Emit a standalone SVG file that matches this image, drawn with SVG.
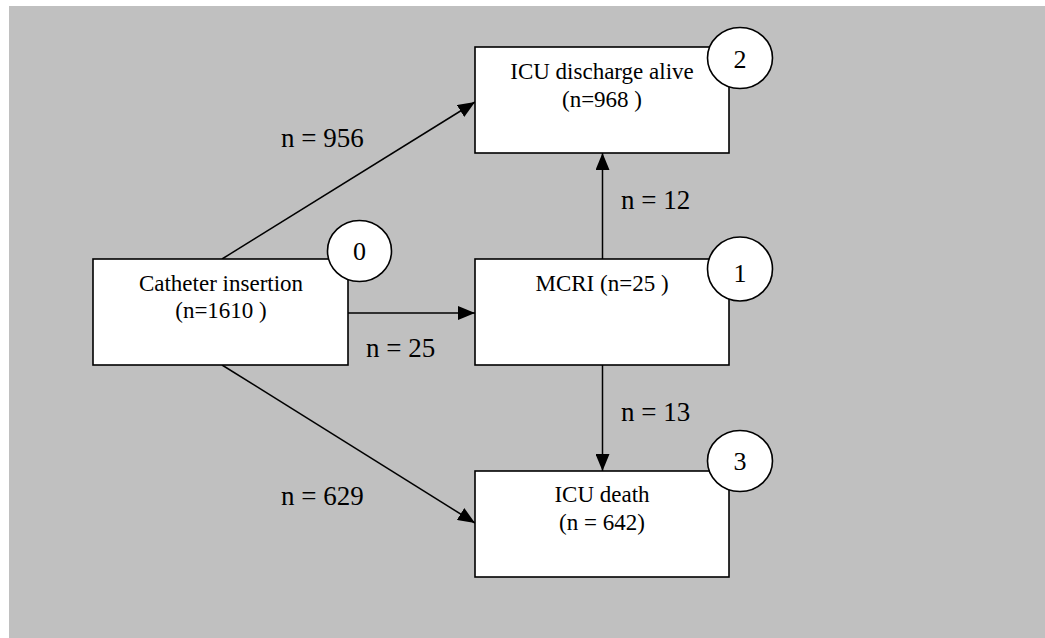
<svg xmlns="http://www.w3.org/2000/svg" width="1045" height="638" viewBox="0 0 1045 638">
<style>
.box{fill:#fff;stroke:#000;stroke-width:1.6}
.badge{fill:#fff;stroke:#000;stroke-width:1.6}
.lbl{font-family:"Liberation Serif","Times New Roman",serif;font-size:23px;fill:#000;text-anchor:middle}
.num{font-family:"Liberation Serif","Times New Roman",serif;font-size:26px;fill:#000;text-anchor:middle}
.elbl{font-family:"Liberation Serif","Times New Roman",serif;font-size:27px;fill:#000}
.edge{stroke:#000;stroke-width:1.5;fill:none;marker-end:url(#ah)}
</style>
<defs>
<marker id="ah" markerUnits="userSpaceOnUse" markerWidth="17" markerHeight="14" refX="17" refY="7" orient="auto">
<path d="M0,0 L17,7 L0,14 z" fill="#000"/>
</marker>
</defs>
<rect x="9" y="6" width="1036" height="632" fill="#C0C0C0"/>
<g id="connectors">
<line class="edge" x1="222" y1="259" x2="475" y2="102"/>
<line class="edge" x1="348" y1="313" x2="475" y2="313"/>
<line class="edge" x1="222" y1="365" x2="475" y2="523"/>
<line class="edge" x1="602.5" y1="259" x2="602.5" y2="153"/>
<line class="edge" x1="602.5" y1="365" x2="602.5" y2="471"/>
<text class="elbl" x="281" y="147">n = 956</text>
<text class="elbl" x="366" y="357">n = 25</text>
<text class="elbl" x="281" y="505">n = 629</text>
<text class="elbl" x="621" y="209">n = 12</text>
<text class="elbl" x="621" y="421">n = 13</text>
</g>
<g id="node0">
<rect class="box" x="93" y="259" width="255" height="106"/>
<text class="lbl" x="221" y="291">Catheter insertion</text>
<text class="lbl" x="221" y="318">(n=1610 )</text>
<ellipse class="badge" cx="359.5" cy="251" rx="32" ry="30.5"/>
<text class="num" x="359.5" y="260">0</text>
</g>
<g id="node1">
<rect class="box" x="475" y="259" width="254" height="106"/>
<text class="lbl" x="602" y="291">MCRI (n=25 )</text>
<ellipse class="badge" cx="740" cy="269" rx="32.5" ry="32"/>
<text class="num" x="740" y="282">1</text>
</g>
<g id="node2">
<rect class="box" x="475" y="47" width="254" height="106"/>
<text class="lbl" x="602" y="79">ICU discharge alive</text>
<text class="lbl" x="602" y="107">(n=968 )</text>
<ellipse class="badge" cx="740" cy="58" rx="32.5" ry="30.5"/>
<text class="num" x="740" y="68">2</text>
</g>
<g id="node3">
<rect class="box" x="475" y="471" width="254" height="106"/>
<text class="lbl" x="602" y="502">ICU death</text>
<text class="lbl" x="602" y="530">(n = 642)</text>
<ellipse class="badge" cx="740" cy="461" rx="32.5" ry="30.5"/>
<text class="num" x="740" y="470">3</text>
</g>
</svg>
